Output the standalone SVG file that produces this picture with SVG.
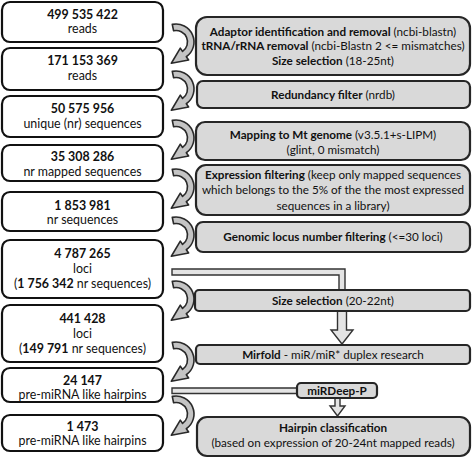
<svg xmlns="http://www.w3.org/2000/svg" xmlns:xlink="http://www.w3.org/1999/xlink" width="472" height="459" viewBox="0 0 472 459">
<style>
.lb{fill:#fff;stroke:#111;stroke-width:2.2}
.rb{fill:#d9d9d9;stroke:#262626;stroke-width:2.2}
.t{font-family:Lato,"Liberation Sans",sans-serif;fill:#111;text-anchor:middle}
.n{font-size:12.4px;font-weight:bold}
.l{font-size:12.4px}
.r{font-size:11.7px}
.b{font-weight:bold}
.tube{fill:#e4e4e4;stroke:#333;stroke-width:1.4}
.curl{fill:#c4c4c4;stroke:#2a2a2a;stroke-width:1.6;stroke-linejoin:round}
</style>
<defs>
<path id="curl" class="curl" d="M-3.74,-17.61 A18 18 0 0 1 10.32,14.74 L12.62,18.02 L-4.64,21.26 L4.30,6.14 L6.60,9.42 A11.5 11.5 0 0 0 -2.39,-11.25 Z"/>
</defs>

<g id="connectors">
<use xlink:href="#curl" x="176" y="42"/>
<use xlink:href="#curl" x="176" y="89"/>
<use xlink:href="#curl" x="176" y="138"/>
<use xlink:href="#curl" x="176" y="187"/>
<use xlink:href="#curl" x="176" y="235"/>
<use xlink:href="#curl" x="176" y="299"/>
<use xlink:href="#curl" x="176" y="360"/>
<use xlink:href="#curl" x="176" y="414"/>
<path class="tube" d="M172,269 H345 V292 H339 V275 H172 Z"/>
<path class="tube" d="M337.5,309 V330 H331 L342,344 L353,330 H346.5 V309 Z"/>
<path class="tube" d="M172,388 H298 V393.5 H172 Z"/>
<path class="tube" d="M335,397 V406 H330 L337.5,416 L345,406 H340 V397 Z"/>
</g>

<g id="n1"><rect class="lb" x="2" y="2" width="161" height="40" rx="8"/>
<text class="t n" x="82.5" y="18.5">499 535 422</text><text class="t l" x="82.5" y="32.5">reads</text></g>
<g id="n2"><rect class="lb" x="2" y="48" width="161" height="42" rx="8"/>
<text class="t n" x="82.5" y="65">171 153 369</text><text class="t l" x="82.5" y="80">reads</text></g>
<g id="n3"><rect class="lb" x="2" y="96" width="161" height="41" rx="8"/>
<text class="t n" x="82.5" y="113">50 575 956</text><text class="t l" x="82.5" y="128">unique (nr) sequences</text></g>
<g id="n4"><rect class="lb" x="2" y="145" width="161" height="36" rx="8"/>
<text class="t n" x="82.5" y="161">35 308 286</text><text class="t l" x="82.5" y="176">nr mapped sequences</text></g>
<g id="n5"><rect class="lb" x="2" y="192" width="161" height="39" rx="8"/>
<text class="t n" x="82.5" y="210">1 853 981</text><text class="t l" x="82.5" y="224">nr sequences</text></g>
<g id="n6"><rect class="lb" x="2" y="240" width="161" height="58" rx="8"/>
<text class="t n" x="82.5" y="257.5">4 787 265</text><text class="t l" x="82.5" y="272.5">loci</text>
<text class="t l" x="82.5" y="287.5">(<tspan class="b">1 756 342</tspan> nr sequences)</text></g>
<g id="n7"><rect class="lb" x="2" y="305" width="161" height="57" rx="8"/>
<text class="t n" x="82.5" y="322.5">441 428</text><text class="t l" x="82.5" y="337.5">loci</text>
<text class="t l" x="82.5" y="352.5">(<tspan class="b">149 791</tspan>  nr sequences)</text></g>
<g id="n8"><rect class="lb" x="2" y="368" width="161" height="34" rx="8"/>
<text class="t n" x="82.5" y="384.5">24 147</text><text class="t l" x="82.5" y="398.5">pre-miRNA like hairpins</text></g>
<g id="n9"><rect class="lb" x="2" y="415" width="161" height="36" rx="8"/>
<text class="t n" x="82.5" y="430.5">1 473</text><text class="t l" x="82.5" y="444.5">pre-miRNA like hairpins</text></g>

<g id="p1"><rect class="rb" x="196" y="17" width="274" height="58" rx="11"/>
<text class="t r" x="333" y="35.5"><tspan class="b">Adaptor identification and removal</tspan> (ncbi-blastn)</text>
<text class="t r" x="333" y="50"><tspan class="b">tRNA/rRNA removal</tspan> (ncbi-Blastn 2 &lt;= mismatches)</text>
<text class="t r" x="333" y="65"><tspan class="b">Size selection</tspan>  (18-25nt)</text></g>
<g id="p2"><rect class="rb" x="197" y="81" width="273" height="27" rx="6"/>
<text class="t r" x="333" y="98.5"><tspan class="b">Redundancy filter</tspan> (nrdb)</text></g>
<g id="p3"><rect class="rb" x="196" y="122" width="274" height="38" rx="9"/>
<text class="t r" x="333" y="138.5"><tspan class="b">Mapping to Mt genome</tspan> (v3.5.1+s-LIPM)</text>
<text class="t r" x="333" y="153.5">(glint,  0 mismatch)</text></g>
<g id="p4"><rect class="rb" x="196" y="165" width="274" height="50" rx="10"/>
<text class="t r" x="333" y="178.5"><tspan class="b">Expression filtering</tspan> (keep only  mapped sequences</text>
<text class="t r" x="333" y="194">which belongs to the 5% of the the most expressed</text>
<text class="t r" x="333" y="209.5">sequences  in a library)</text></g>
<g id="p5"><rect class="rb" x="196" y="222" width="274" height="30" rx="7"/>
<text class="t r" x="333" y="241"><tspan class="b">Genomic locus number filtering</tspan> (&lt;=30 loci)</text></g>
<g id="p6"><rect class="rb" x="195" y="290" width="275" height="21" rx="4"/>
<text class="t r" x="333" y="305"><tspan class="b">Size selection</tspan> (20-22nt)</text></g>
<g id="p7"><rect class="rb" x="196" y="345" width="274" height="19" rx="4"/>
<text class="t r" x="333" y="358.5"><tspan class="b">Mirfold</tspan>  - miR/miR* duplex research</text></g>
<g id="p8"><rect class="rb" x="297" y="383" width="80" height="15" rx="4"/>
<text class="t r b" x="337" y="394.5">miRDeep-P</text></g>
<g id="p9"><rect class="rb" x="197" y="417" width="273" height="39" rx="10"/>
<text class="t r" x="333" y="432"><tspan class="b">Hairpin classification</tspan></text>
<text class="t r" x="333" y="446.5">(based on expression  of 20-24nt mapped reads)</text></g>
</svg>
